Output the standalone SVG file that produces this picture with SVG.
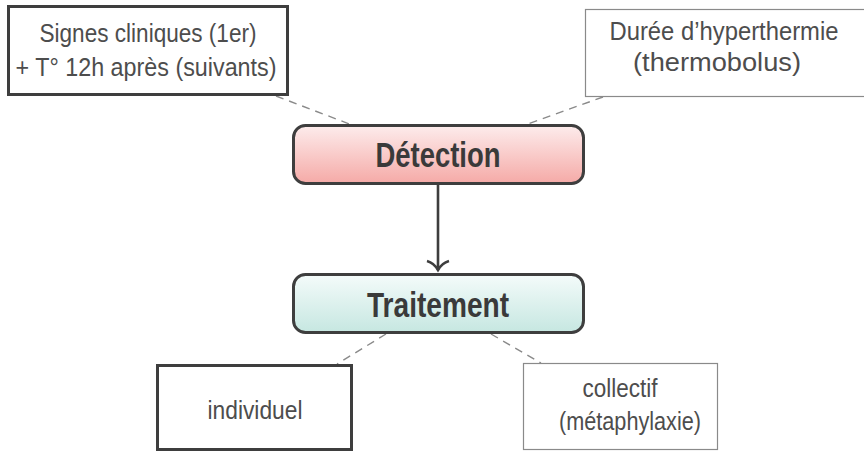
<svg xmlns="http://www.w3.org/2000/svg" width="864" height="452" viewBox="0 0 864 452">
  <style>
    .txt { font-family: "Liberation Sans", Arial, sans-serif; font-size: 25px; fill: #4d4d4d; text-anchor: middle; }
    .title { font-family: "Liberation Sans", Arial, sans-serif; font-size: 35px; font-weight: bold; fill: #3a3a3a; text-anchor: middle; }
    .boxThick { fill: #ffffff; stroke: #3e3e3e; stroke-width: 3; }
    .boxThin { fill: #ffffff; stroke: #8a8a8a; stroke-width: 1.2; }
    .main { stroke: #3e3e3e; stroke-width: 3; }
    .dash { fill: none; stroke: #8a8a8a; stroke-width: 1.4; stroke-dasharray: 8 6; }
    .flow { fill: none; stroke: #3e3e3e; stroke-width: 2.6; }
  </style>
  <defs>
    <linearGradient id="gradDetect" x1="0" y1="0" x2="0" y2="1">
      <stop offset="0" stop-color="#fdecec"/>
      <stop offset="1" stop-color="#f5aaa7"/>
    </linearGradient>
    <linearGradient id="gradTreat" x1="0" y1="0" x2="0" y2="1">
      <stop offset="0" stop-color="#f4fbfa"/>
      <stop offset="1" stop-color="#c6e7e1"/>
    </linearGradient>
  </defs>

  <!-- connectors -->
  <g id="connectors">
    <line class="dash" x1="276" y1="96" x2="352" y2="125"/>
    <line class="dash" x1="603" y1="97" x2="525" y2="125"/>
    <line class="dash" x1="386" y1="334" x2="337" y2="364"/>
    <line class="dash" x1="491" y1="334" x2="541" y2="363"/>
    <line class="flow" x1="438" y1="185" x2="438" y2="270"/>
    <!-- open chevron arrowhead -->
    <path class="flow" d="M427,261 Q434,263 438,270 Q442,263 449,261"/>
  </g>

  <g id="signes">
    <rect class="boxThick" x="8.5" y="6.5" width="279" height="88"/>
    <text class="txt" x="148" y="42" textLength="217" lengthAdjust="spacingAndGlyphs">Signes cliniques (1er)</text>
    <text class="txt" x="146" y="76" textLength="261" lengthAdjust="spacingAndGlyphs">+ T° 12h après (suivants)</text>
  </g>

  <g id="duree">
    <rect class="boxThin" x="585.5" y="9.5" width="290" height="87"/>
    <text class="txt" x="724" y="40" textLength="229" lengthAdjust="spacingAndGlyphs">Durée d’hyperthermie</text>
    <text class="txt" x="717" y="71" textLength="168" lengthAdjust="spacingAndGlyphs">(thermobolus)</text>
  </g>

  <g id="detection">
    <rect x="293.5" y="125.5" width="290" height="58" rx="12" ry="12" fill="url(#gradDetect)" class="main"/>
    <text class="title" x="438" y="167" textLength="125" lengthAdjust="spacingAndGlyphs">Détection</text>
  </g>

  <g id="traitement">
    <rect x="293.5" y="274.5" width="290" height="58" rx="12" ry="12" fill="url(#gradTreat)" class="main"/>
    <text class="title" x="438" y="317" textLength="142" lengthAdjust="spacingAndGlyphs">Traitement</text>
  </g>

  <g id="individuel">
    <rect class="boxThick" x="157.5" y="365.5" width="194" height="84"/>
    <text class="txt" x="255" y="419" textLength="95" lengthAdjust="spacingAndGlyphs">individuel</text>
  </g>

  <g id="collectif">
    <rect class="boxThin" x="523.5" y="363.5" width="194" height="86"/>
    <text class="txt" x="620" y="397" textLength="75" lengthAdjust="spacingAndGlyphs">collectif</text>
    <text class="txt" x="630" y="430" textLength="142" lengthAdjust="spacingAndGlyphs">(métaphylaxie)</text>
  </g>
</svg>
